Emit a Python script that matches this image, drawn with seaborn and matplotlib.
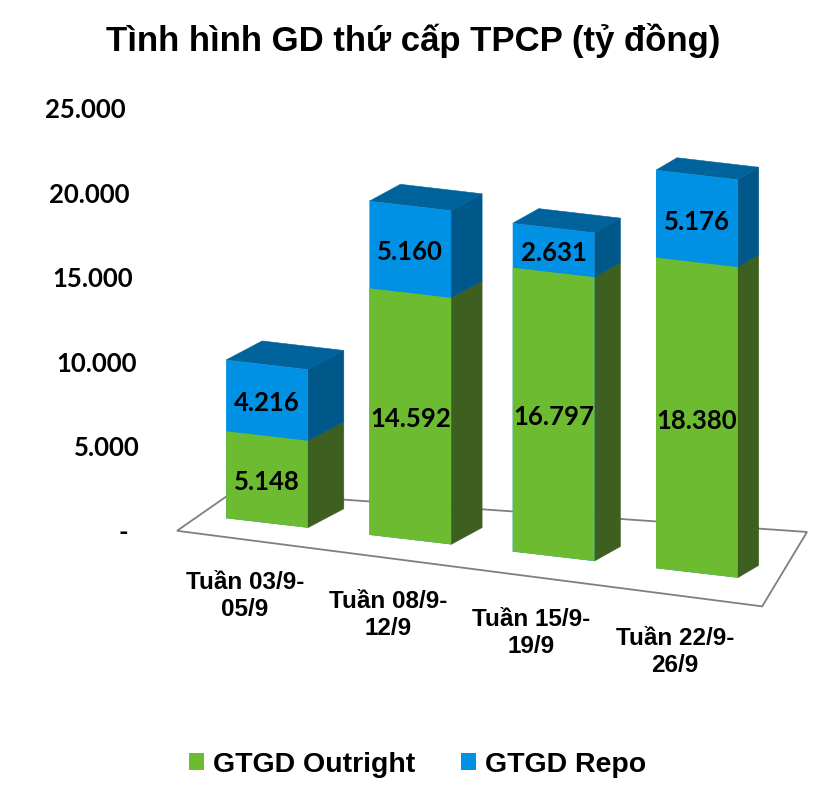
import numpy as np
import pandas as pd
import seaborn as sns
import matplotlib
matplotlib.use("Agg")
import matplotlib.pyplot as plt
from matplotlib.transforms import Affine2D, IdentityTransform
from matplotlib.patches import Polygon

# ---------------- data ----------------
categories = ["Tuần 03/9-\n05/9", "Tuần 08/9-\n12/9", "Tuần 15/9-\n19/9", "Tuần 22/9-\n26/9"]
outright = [5148, 14592, 16797, 18380]
repo = [4216, 5160, 2631, 5176]
series_names = ["GTGD Outright", "GTGD Repo"]
ytick_values = [0, 5000, 10000, 15000, 20000, 25000]
ytick_labels = ["-", "5.000", "10.000", "15.000", "20.000", "25.000"]
title = "Tình hình GD thứ cấp TPCP (tỷ đồng)"


def fmt(v):
    return f"{v:,}".replace(",", ".")


# ---------------- style ----------------
sns.set_style("white")
plt.rcParams["font.family"] = ["Liberation Sans", "DejaVu Sans"]
plt.rcParams["text.color"] = "black"
NUM_FONT = ["Lato", "DejaVu Sans"]

GREEN = "#6DBB30"
GREEN_DK = "#3D5F1F"
BLUE = "#0090E4"
BLUE_TOP = "#00639B"
BLUE_SIDE = "#00578A"
W = 0.57

fig = plt.figure(figsize=(8.36, 7.85), dpi=100)
ax = fig.add_axes([0.17344, 0.10828, 0.81938, 0.77707])

df = pd.DataFrame({"week": categories, "outright": outright, "repo": repo})
df["total"] = df["outright"] + df["repo"]

sns.barplot(data=df, x="week", y="total", order=categories, color=BLUE, width=W,
            saturation=1, errorbar=None, ax=ax, label=series_names[1], zorder=3,
            linewidth=0)
sns.barplot(data=df, x="week", y="outright", order=categories, color=GREEN, width=W,
            saturation=1, errorbar=None, ax=ax, label=series_names[0], zorder=3,
            linewidth=0)

ax.set_xlim(-0.851, 3.929)
ax.set_ylim(-9882, 26213)

# pseudo-3D: skew the plotting plane so the floor recedes to the right
k = 0.1163
X0 = 353.0
skew = Affine2D().translate(-X0, 0).skew(0, np.arctan(-k)).translate(X0, 0)
T = ax.transData + skew

for p in ax.patches:
    p.set_transform(T)


def depth(x):
    return np.array([36 - 5 * x, 19 - 2.2 * x])


def P(x, y, d=0.0):
    return T.transform((x, y)) + d * depth(x)


# floor
floor_pts = [(-0.428, -0.75), (3.7, -2.0), (3.244, 3.8), (-0.534, 1.1)]
floor = Polygon([P(x, 0, d) for x, d in floor_pts], closed=True,
                transform=IdentityTransform(), facecolor="white",
                edgecolor="#7F7F7F", linewidth=1.3, zorder=1)
ax.add_patch(floor)

# side and top faces, labels
totals = df["total"].tolist()
for i in range(len(categories)):
    l, r = i - W / 2, i + W / 2
    dv = depth(i)
    segs = [(0, outright[i], GREEN_DK), (outright[i], totals[i], BLUE_SIDE)]
    for lo, hi, col in segs:
        side = [P(r, lo), P(r, lo) + dv, P(r, hi) + dv, P(r, hi)]
        ax.add_patch(Polygon(side, closed=True, transform=IdentityTransform(),
                             facecolor=col, edgecolor=col, linewidth=0.4, zorder=2.5))
    top = [P(l, totals[i]), P(r, totals[i]), P(r, totals[i]) + dv, P(l, totals[i]) + dv]
    ax.add_patch(Polygon(top, closed=True, transform=IdentityTransform(),
                         facecolor=BLUE_TOP, edgecolor=BLUE_TOP, linewidth=0.4, zorder=2.5))

    for lo, hi, v in [(0, outright[i], outright[i]), (outright[i], totals[i], repo[i])]:
        ax.annotate(fmt(v), xy=(i, (lo + hi) / 2), xycoords=T, xytext=(0, -3),
                    textcoords="offset pixels", ha="center", va="center",
                    fontsize=18.5, fontweight="bold", family=NUM_FONT, color="black",
                    zorder=5)

    ax.annotate(categories[i], xy=(i, 0), xycoords=T, xytext=(-22, -73 - 2 * i),
                textcoords="offset pixels", ha="center", va="center",
                fontsize=17.5, fontweight="bold", linespacing=1.22, color="black")

# y-axis labels (perspective drift to the right going down)
ax.set_xticks([])
ax.set_yticks([])
ax.set_xlabel("")
ax.set_ylabel("")
for kk, (v, lab) in enumerate(zip(ytick_values, ytick_labels)):
    off = 17 if kk == 0 else 1.5 + 3.5 * kk
    ax.annotate(lab, xy=(0, v), xycoords=ax.get_yaxis_transform(),
                xytext=(-off, 0), textcoords="offset pixels", ha="right", va="center",
                fontsize=18.5, fontweight="bold", family=NUM_FONT, color="black",
                annotation_clip=False)

sns.despine(ax=ax, left=True, bottom=True)

# legend (figure level, seaborn's axes legend removed)
handles, labels = ax.get_legend_handles_labels()
if ax.get_legend() is not None:
    ax.get_legend().remove()
order = [labels.index(n) for n in series_names]
fig.legend([handles[j] for j in order], [labels[j] for j in order],
           loc="center", bbox_to_anchor=(0.4994, 0.0255), ncol=2, frameon=False,
           prop={"weight": "bold", "size": 20.5}, labelcolor="black",
           handlelength=0.55, handleheight=0.55, handletextpad=0.3,
           columnspacing=1.6)

fig.text(0.4946, (785 - 40) / 785, title, ha="center", va="center",
         fontsize=25, fontweight="bold", color="black")

fig.savefig("out.png", dpi=100)
